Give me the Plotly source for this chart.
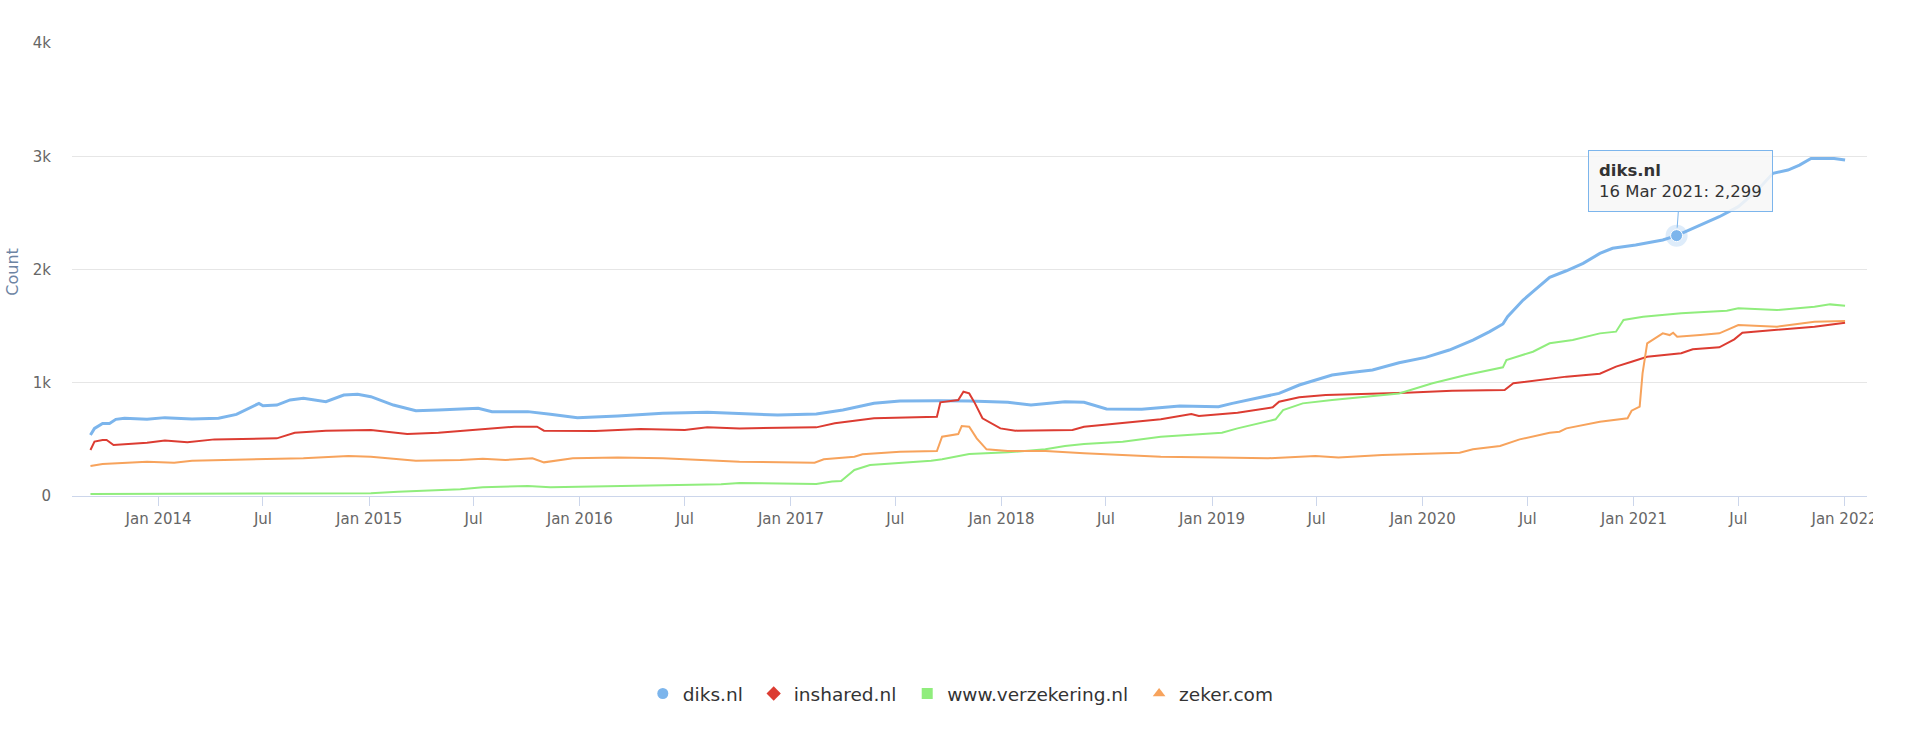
import plotly.graph_objects as go

# ---------------- data ----------------
diks_dates = ["2013-09-05", "2013-09-12", "2013-09-26", "2013-10-08", "2013-10-19", "2013-11-03",
              "2013-12-12", "2014-01-12", "2014-02-28", "2014-04-15", "2014-05-16", "2014-06-08",
              "2014-06-24", "2014-07-01", "2014-07-25", "2014-08-17", "2014-09-09", "2014-10-18",
              "2014-11-18", "2014-12-12", "2015-01-04", "2015-02-12", "2015-03-23", "2015-05-01",
              "2015-07-09", "2015-08-02", "2015-10-03", "2015-11-11", "2015-12-28", "2016-03-07",
              "2016-05-24", "2016-08-09", "2016-10-04", "2016-12-09", "2017-02-14", "2017-04-01",
              "2017-05-25", "2017-07-09", "2017-09-14", "2017-11-06", "2018-01-12", "2018-02-21",
              "2018-04-21", "2018-05-24", "2018-07-02", "2018-09-01", "2018-11-06", "2019-01-12",
              "2019-02-05", "2019-04-04", "2019-04-27", "2019-06-01", "2019-07-28", "2019-08-26",
              "2019-10-06", "2019-11-21", "2020-01-06", "2020-02-16", "2020-03-28", "2020-04-26",
              "2020-05-19", "2020-05-27", "2020-06-23", "2020-07-10", "2020-08-08", "2020-09-06",
              "2020-10-05", "2020-11-03", "2020-11-25", "2021-01-04", "2021-02-20", "2021-03-16",
              "2021-04-13", "2021-05-29", "2021-07-01", "2021-08-03", "2021-08-30", "2021-09-25",
              "2021-10-15", "2021-11-04", "2021-12-14", "2022-01-02"]
diks_vals = [539, 597, 641, 641, 677, 686,
             677, 692, 680, 686, 721, 780,
             818, 797, 803, 848, 862, 833,
             892, 898, 877, 803, 753, 759,
             774, 745, 745, 721, 692, 706,
             730, 739, 730, 715, 724, 759,
             818, 839, 842, 839, 827, 803,
             833, 827, 768, 765, 795, 789,
             818, 877, 906, 980, 1068, 1089,
             1112, 1177, 1224, 1289, 1377, 1451,
             1519, 1583, 1730, 1804, 1931, 1989,
             2054, 2142, 2187, 2216, 2260, 2299,
             2363, 2466, 2555, 2700, 2849, 2878,
             2922, 2981, 2981, 2966]

inshared_dates = ["2013-09-05", "2013-09-12", "2013-09-26", "2013-10-03", "2013-10-15", "2013-11-03",
                  "2013-12-12", "2014-01-12", "2014-02-20", "2014-04-08", "2014-06-24", "2014-07-25",
                  "2014-08-25", "2014-10-18", "2015-01-04", "2015-03-08", "2015-05-01", "2015-07-17",
                  "2015-09-10", "2015-10-19", "2015-10-31", "2016-01-28", "2016-04-15", "2016-07-01",
                  "2016-08-09", "2016-10-04", "2017-02-14", "2017-03-18", "2017-05-25", "2017-09-11",
                  "2017-09-17", "2017-10-18", "2017-10-27", "2017-11-06", "2017-11-16", "2017-11-29",
                  "2017-12-30", "2018-01-25", "2018-05-04", "2018-05-24", "2018-07-30", "2018-10-04",
                  "2018-11-26", "2018-12-09", "2019-02-14", "2019-04-16", "2019-04-27", "2019-06-01",
                  "2019-07-17", "2019-09-24", "2019-12-03", "2020-02-21", "2020-05-22", "2020-06-06",
                  "2020-07-10", "2020-09-06", "2020-11-03", "2020-12-01", "2020-12-28", "2021-01-24",
                  "2021-03-24", "2021-04-13", "2021-05-29", "2021-06-24", "2021-07-08", "2021-09-06",
                  "2021-11-10", "2022-01-02"]
inshared_vals = [406, 480, 494, 494, 450, 456,
                 471, 489, 474, 500, 509, 509,
                 559, 577, 583, 547, 559, 589,
                 612, 612, 577, 574, 592, 583,
                 606, 597, 606, 642, 686, 700,
                 827, 848, 921, 906, 818, 686,
                 597, 577, 583, 612, 642, 677,
                 724, 706, 736, 783, 833, 871,
                 892, 901, 912, 930, 936, 995,
                 1018, 1054, 1080, 1142, 1186, 1230,
                 1260, 1295, 1313, 1383, 1442, 1466,
                 1495, 1530]

verz_dates = ["2013-09-05", "2014-05-16", "2015-01-04", "2015-02-20", "2015-06-08", "2015-07-17",
              "2015-10-03", "2015-11-11", "2016-04-15", "2016-09-02", "2016-10-04", "2017-02-14",
              "2017-03-13", "2017-03-29", "2017-04-21", "2017-05-18", "2017-09-01", "2017-09-20",
              "2017-11-06", "2018-01-12", "2018-03-18", "2018-04-21", "2018-05-24", "2018-07-30",
              "2018-10-04", "2018-12-09", "2019-01-18", "2019-02-14", "2019-04-08", "2019-04-21",
              "2019-05-04", "2019-06-07", "2019-07-28", "2019-09-24", "2019-11-21", "2020-01-18",
              "2020-03-16", "2020-05-19", "2020-05-25", "2020-07-10", "2020-08-08", "2020-09-17",
              "2020-11-03", "2020-12-01", "2020-12-14", "2021-01-17", "2021-03-24", "2021-06-11",
              "2021-07-01", "2021-09-06", "2021-11-10", "2021-12-07", "2022-01-02"]
verz_vals = [18, 18, 24, 38, 59, 77,
             88, 77, 91, 103, 115, 106,
             127, 132, 230, 274, 312, 324,
             371, 386, 412, 441, 459, 480,
             524, 547, 559, 597, 656, 677,
             759, 818, 848, 877, 906, 995,
             1068, 1136, 1201, 1274, 1348, 1377,
             1436, 1451, 1554, 1583, 1613, 1636,
             1657, 1642, 1672, 1692, 1680]

zeker_dates = ["2013-09-05", "2013-09-26", "2013-12-12", "2014-01-28", "2014-02-28", "2014-06-24",
               "2014-09-09", "2014-11-26", "2015-01-04", "2015-03-23", "2015-06-08", "2015-07-17",
               "2015-08-25", "2015-10-11", "2015-10-31", "2015-12-20", "2016-03-07", "2016-05-24",
               "2016-08-09", "2016-10-04", "2017-02-11", "2017-02-27", "2017-04-21", "2017-05-05",
               "2017-07-09", "2017-09-11", "2017-09-20", "2017-10-18", "2017-10-24", "2017-11-06",
               "2017-11-19", "2017-12-06", "2018-01-12", "2018-03-18", "2018-05-24", "2018-07-30",
               "2018-10-04", "2019-01-12", "2019-04-08", "2019-06-29", "2019-08-08", "2019-10-23",
               "2020-03-05", "2020-03-28", "2020-05-14", "2020-06-17", "2020-07-10", "2020-08-08",
               "2020-08-25", "2020-09-06", "2020-11-03", "2020-11-25", "2020-12-21", "2020-12-28",
               "2021-01-11", "2021-01-16", "2021-01-24", "2021-02-20", "2021-03-04", "2021-03-10",
               "2021-03-17", "2021-04-26", "2021-05-29", "2021-07-01", "2021-08-03", "2021-09-06",
               "2021-10-08", "2021-11-10", "2022-01-02"]
zeker_vals = [265, 283, 303, 294, 312, 327,
              333, 353, 347, 312, 318, 330,
              318, 333, 297, 333, 341, 333,
              318, 303, 294, 324, 347, 368,
              391, 397, 524, 547, 618, 612,
              509, 412, 397, 397, 377, 362,
              347, 341, 333, 353, 341, 362,
              383, 412, 441, 500, 524, 559,
              568, 597, 656, 671, 686, 753,
              789, 1083, 1348, 1436, 1421, 1442,
              1407, 1421, 1436, 1510, 1501, 1495,
              1516, 1539, 1545]

series_names = ["diks.nl", "inshared.nl", "www.verzekering.nl", "zeker.com"]
series_colors = ["#7cb5ec", "#dc3c32", "#90ed7d", "#f7a35c"]
series_symbols = ["circle", "diamond", "square", "triangle-up"]

tick_dates = ["2014-01-01", "2014-07-01", "2015-01-01", "2015-07-01", "2016-01-01", "2016-07-01",
              "2017-01-01", "2017-07-01", "2018-01-01", "2018-07-01", "2019-01-01", "2019-07-01",
              "2020-01-01", "2020-07-01", "2021-01-01", "2021-07-01", "2022-01-01"]
tick_labels = ["Jan 2014", "Jul", "Jan 2015", "Jul", "Jan 2016", "Jul", "Jan 2017", "Jul",
               "Jan 2018", "Jul", "Jan 2019", "Jul", "Jan 2020", "Jul", "Jan 2021", "Jul", "Jan 2022"]
y_ticks = [0, 1000, 2000, 3000, 4000]
y_labels = ["0", "1k", "2k", "3k", "4k"]

hover_date = "2021-03-16"
hover_value = 2299

FONT = "DejaVu Sans"
PAD = "\u00a0"  # extra spacing between legend entries

fig = go.Figure()
all_x = [diks_dates, inshared_dates, verz_dates, zeker_dates]
all_y = [diks_vals, inshared_vals, verz_vals, zeker_vals]
widths = [3, 2, 2, 2]
for name, xs, ys, col, w in zip(series_names, all_x, all_y, series_colors, widths):
    fig.add_trace(go.Scatter(x=xs, y=ys, mode="lines", name=name, showlegend=False,
                             line=dict(color=col, width=w), hoverinfo="skip"))

# legend entries (marker only, as in the reference)
for i, (name, col, sym) in enumerate(zip(series_names, series_colors, series_symbols)):
    label = name + (PAD if i < len(series_names) - 1 else "")
    fig.add_trace(go.Scatter(x=[None], y=[None], mode="markers", name=label,
                             marker=dict(color=col, symbol=sym, size=11)))

# hovered point with halo
fig.add_trace(go.Scatter(x=[hover_date], y=[hover_value], mode="markers", showlegend=False,
                         marker=dict(size=22, color="rgba(124,181,236,0.25)"), hoverinfo="skip"))
fig.add_trace(go.Scatter(x=[hover_date], y=[hover_value], mode="markers", showlegend=False,
                         marker=dict(size=12, color="#7cb5ec", line=dict(color="#ffffff", width=1)),
                         hoverinfo="skip"))

fig.add_annotation(x=hover_date, y=hover_value, xref="x", yref="y",
                   text="<b>diks.nl</b><br>16 Mar 2021: " + f"{hover_value:,}",
                   showarrow=True, arrowhead=0, arrowwidth=1, arrowcolor="#7cb5ec",
                   ax=4, ay=-55, standoff=8, align="left",
                   bgcolor="rgba(247,247,247,0.88)", bordercolor="#7cb5ec", borderwidth=1,
                   borderpad=10, font=dict(family=FONT, size=16.5, color="#333333"))

fig.add_annotation(text="Count", xref="paper", yref="paper", x=-0.0329, y=0.495,
                   showarrow=False, textangle=-90, xanchor="center", yanchor="middle",
                   font=dict(family=FONT, size=16, color="#6d84a3"))

fig.update_layout(
    width=1873, height=738,
    margin=dict(l=72, r=6, t=43, b=242),
    paper_bgcolor="#ffffff", plot_bgcolor="#ffffff",
    font=dict(family=FONT, color="#666666"),
    showlegend=True,
    legend=dict(orientation="h", x=0.318, xanchor="left", y=-0.437, yanchor="middle",
                font=dict(family=FONT, size=18.5, color="#333333"), bgcolor="rgba(0,0,0,0)",
                itemwidth=30),
    xaxis=dict(type="date", range=["2013-08-04", "2022-02-09"], tickmode="array",
               tickvals=tick_dates, ticktext=tick_labels, showgrid=False,
               showline=True, linecolor="#ccd6eb", linewidth=1,
               ticks="outside", ticklen=9, tickcolor="#ccd6eb", tickwidth=1,
               tickfont=dict(family=FONT, size=15, color="#666666"), zeroline=False,
               ticklabeloverflow="allow", automargin=False, fixedrange=True),
    yaxis=dict(range=[0, 4000], tickmode="array", tickvals=y_ticks, ticktext=y_labels,
               showgrid=True, gridcolor="#e6e6e6", gridwidth=1, zeroline=False,
               ticks="outside", ticklen=17, tickcolor="rgba(0,0,0,0)",
               tickfont=dict(family=FONT, size=15, color="#666666"),
               automargin=False, fixedrange=True),
)

fig.write_html("out.html")
